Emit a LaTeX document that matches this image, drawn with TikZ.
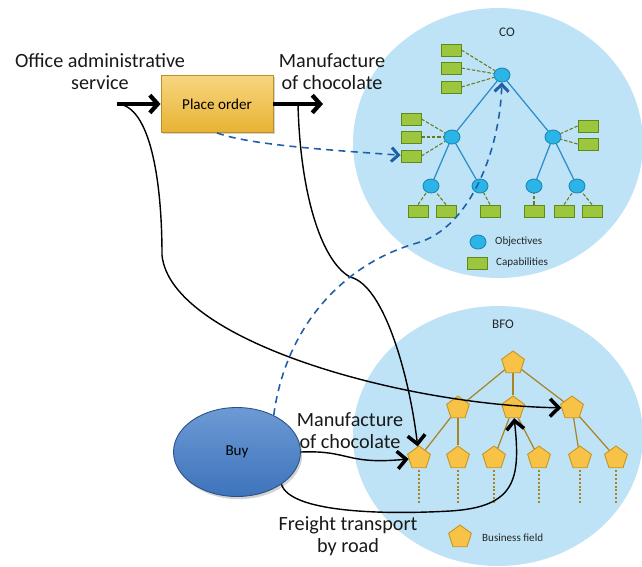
\documentclass[tikz,border=0pt]{standalone}
\usepackage{fontspec}
\setmainfont{Carlito}
\usetikzlibrary{shapes.geometric,arrows.meta,shadows}
\definecolor{skyfill}{HTML}{BEE3F6}
\definecolor{objfill}{HTML}{2BB5E6}
\definecolor{objline}{HTML}{1B86B8}
\definecolor{capfill}{HTML}{9CC63D}
\definecolor{capline}{HTML}{5E8A1A}
\definecolor{capdash}{HTML}{6A7A20}
\definecolor{bizfill}{HTML}{F8C246}
\definecolor{bizline}{HTML}{C4951E}
\definecolor{bizedge}{HTML}{A88425}
\definecolor{linkblue}{HTML}{1F5FA8}
\definecolor{treeblue}{HTML}{2C8CC9}
\definecolor{ordtop}{HTML}{F7D680}
\definecolor{ordbot}{HTML}{E8B232}
\definecolor{buytop}{HTML}{6C9AD4}
\definecolor{buybot}{HTML}{3E74BC}
\newcommand{\bigtxt}{\fontsize{11.5}{12.5}\selectfont}
\newcommand{\smalltxt}{\fontsize{6.3}{7.5}\selectfont}

\begin{document}
\begin{tikzpicture}[x=0.02cm,y=-0.02cm,
    sky/.style={ellipse,fill=skyfill,inner sep=0pt},
    obj/.style={ellipse,fill=objfill,draw=objline,line width=0.5pt,minimum width=0.32cm,minimum height=0.28cm,inner sep=0pt},
    capbox/.style={rectangle,fill=capfill,draw=capline,line width=0.5pt,minimum width=0.4cm,minimum height=0.24cm,inner sep=0pt},
    biz/.style={regular polygon,regular polygon sides=5,fill=bizfill,draw=bizline,line width=0.5pt,minimum size=0.48cm,inner sep=0pt},
    tree/.style={treeblue,line width=0.7pt},
    capl/.style={capdash,line width=0.6pt,dash pattern=on 2pt off 1pt},
    bizl/.style={bizedge,line width=0.7pt},
    bdot/.style={bizedge,line width=1.2pt,dash pattern=on 1.1pt off 1.1pt},
    fat/.style={line width=2.4pt,-{Straight Barb[length=4.5pt,width=10pt,line width=2.4pt]}},
    link/.style={line width=0.8pt,-{Straight Barb[length=5pt,width=10pt,line width=2pt]}},
    dlink/.style={linkblue,line width=0.9pt,dash pattern=on 4pt off 3pt,-{Straight Barb[length=4pt,width=8pt,line width=1.7pt,sep=0pt]}},
    lab/.style={align=center,text=black!90,font=\bigtxt,inner sep=0pt}]
    
    \useasboundingbox (0,0) rectangle (642,566);
    
    % CO
    \node[sky,minimum width=5.8cm,minimum height=5.4cm] (CO) at (498,143) {};
    \node[font=\fontsize{7.5}{9}\selectfont,text=black!85] (COt) at (507,32) {CO};
    
    \node[obj] (O) at (502,75) {};
    \node[obj] (O1) at (452,137) {};
    \node[obj] (O2) at (553,137) {};
    \node[obj] (O11) at (431,186) {};
    \node[obj] (O12) at (480,186) {};
    \node[obj] (O21) at (534,186) {};
    \node[obj] (O22) at (577,186) {};
    
    \draw[tree] (O) -- (O1);
    \draw[tree] (O) -- (O2);
    \draw[tree] (O1) -- (O11);
    \draw[tree] (O1) -- (O12);
    \draw[tree] (O2) -- (O21);
    \draw[tree] (O2) -- (O22);
    
    \node[capbox] (C1) at (451,50) {};
    \node[capbox] (C2) at (451,68) {};
    \node[capbox] (C3) at (451,87) {};
    \node[capbox] (C4) at (411,119) {};
    \node[capbox] (C5) at (411,137) {};
    \node[capbox] (C6) at (411,156) {};
    \node[capbox] (C7) at (588,126) {};
    \node[capbox] (C8) at (588,144) {};
    \node[capbox] (C9) at (418,211) {};
    \node[capbox] (C10) at (446,211) {};
    \node[capbox] (C11) at (490,211) {};
    \node[capbox] (C12) at (534,211) {};
    \node[capbox] (C13) at (564,211) {};
    \node[capbox] (C14) at (592,211) {};
    
    \draw[capl] (C1.east) -- (O);
    \draw[capl] (C2.east) -- (O);
    \draw[capl] (C3.east) -- (O);
    \draw[capl] (C4.east) -- (O1);
    \draw[capl] (C5.east) -- (O1);
    \draw[capl] (C6.east) -- (O1);
    \draw[capl] (C7.west) -- (O2);
    \draw[capl] (C8.west) -- (O2);
    \draw[capl] (C9.north) -- (O11);
    \draw[capl] (C10.north) -- (O11);
    \draw[capl] (C11.north) -- (O12);
    \draw[capl] (C12.north) -- (O21);
    \draw[capl] (C13.north) -- (O22);
    \draw[capl] (C14.north) -- (O22);
    
    \node[obj] (L1) at (478,242) {};
    \node[font=\smalltxt,text=black!85,anchor=west] (L1t) at (489,242) {Objectives};
    \node[capbox] (L2) at (477,263) {};
    \node[font=\smalltxt,text=black!85,anchor=west] (L2t) at (490,263) {Capabilities};
    
    % BFO
    \node[sky,minimum width=5.8cm,minimum height=5.2cm] (BFO) at (498,436) {};
    \node[font=\fontsize{7.5}{9}\selectfont,text=black!85] (BFOt) at (503,324) {BFO};
    
    \node[biz] (B) at (513,363) {};
    \node[biz] (B1) at (458,408) {};
    \node[biz] (B2) at (513,408) {};
    \node[biz] (B3) at (572,408) {};
    \node[biz] (B11) at (419,458) {};
    \node[biz] (B12) at (458,458) {};
    \node[biz] (B21) at (494,458) {};
    \node[biz] (B22) at (539,458) {};
    \node[biz] (B31) at (580,458) {};
    \node[biz] (B32) at (616,458) {};
    
    \draw[bizl] (B) -- (B1);
    \draw[bizl] (B) -- (B2);
    \draw[bizl] (B) -- (B3);
    \draw[bizl] (B1) -- (B11);
    \draw[bizl] (B1) -- (B12);
    \draw[bizl] (B2) -- (B21);
    \draw[bizl] (B2) -- (B22);
    \draw[bizl] (B3) -- (B31);
    \draw[bizl] (B3) -- (B32);
    
    \foreach \n in {B11,B12,B21,B22,B31,B32}
      \draw[bdot] (\n.south) ++(0,2) -- ++(0,34);
    
    \node[biz] (L3) at (460,537) {};
    \node[font=\smalltxt,text=black!85,anchor=west] (L3t) at (476,538) {Business field};
    
    % processes
    \node[rectangle,top color=ordtop,bottom color=ordbot,draw=ordbot!80!black,line width=0.5pt,
          minimum width=2.24cm,minimum height=1.14cm,drop shadow={opacity=0.35,shadow xshift=1pt,shadow yshift=-1pt},
          font=\fontsize{8.6}{10}\selectfont] (PO) at (217,104) {Place order};
    \node[ellipse,top color=buytop,bottom color=buybot,draw=buybot!70!black,line width=0.5pt,
          minimum width=2.54cm,minimum height=1.78cm,drop shadow={opacity=0.35,shadow xshift=1pt,shadow yshift=-1.5pt},
          font=\fontsize{8.6}{10}\selectfont] (BY) at (237,452) {Buy};
    
    \node[lab] (OA) at (100,72) {Office administrative\\service};
    \node[lab] (MC) at (332,72) {Manufacture\\of chocolate};
    \node[lab] (MC2) at (350,431) {Manufacture\\of chocolate};
    \node[lab] (FT) at (348,536) {Freight transport\\by road};
    
    \coordinate (S1) at (117,104);
    \coordinate (S2) at (323,104);
    \coordinate (S3) at (298,104);
    \coordinate (T1) at (162,255);
    \coordinate (T2) at (350,277);
    \coordinate (T3) at (450,511);
    \coordinate (T4) at (417,243);
    
    \draw[fat] (S1) -- (PO);
    \draw[fat] (PO) -- (S2);
    
    \draw[link] (S1) .. controls (150,105) and (162,180) .. (T1) .. controls (170,340) and (400,405) .. (B3);
    \draw[link] (S3) .. controls (300,190) and (320,260) .. (T2) .. controls (385,285) and (410,380) .. (B11);
    \draw[link] (BY.east) .. controls (350,450) and (345,465) .. (B11);
    \draw[link] (BY.-36) .. controls (290,512) and (380,515) .. (T3) .. controls (515,507) and (521,480) .. (B2);
    
    \draw[dlink] (PO.south) .. controls (250,145) and (330,150) .. (C6);
    \draw[dlink] (BY.45) .. controls (285,330) and (340,265) .. (T4) .. controls (470,228) and (500,150) .. (O);
    
\end{tikzpicture}
\end{document}
